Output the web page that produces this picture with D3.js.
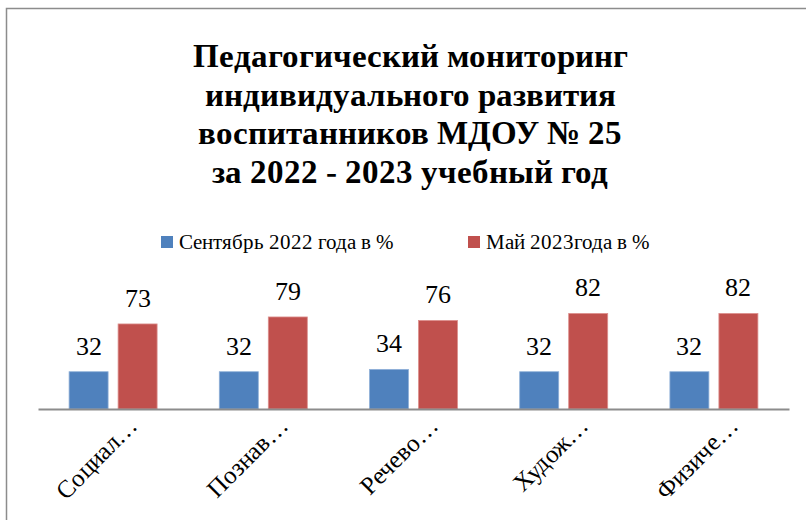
<!DOCTYPE html>
<html>
<head>
<meta charset="utf-8">
<script src="https://cdn.jsdelivr.net/npm/d3@7"></script>
<style>
  @font-face { font-family: "ChartSerif"; src: local("Liberation Serif"), local("LiberationSerif"), local("Times New Roman"); font-weight: normal; }
  @font-face { font-family: "ChartSerif"; src: local("Liberation Serif Bold"), local("LiberationSerif-Bold"), local("Times New Roman Bold"); font-weight: bold; }
  body { margin: 0; }
</style>
</head>
<body>
<svg id="chart" width="806" height="520"></svg>
<script>
// --------------------------------------------------------------------------------------
// data
// --------------------------------------------------------------------------------------
var categories = ["Социал…", "Познав…", "Речево…", "Худож…", "Физиче…"];
var series_names = ["Сентябрь 2022 года в %", "Май 2023года в %"];
var sept_values = [32, 32, 34, 32, 32];
var may_values = [73, 79, 76, 82, 82];
var title_lines = [
  "Педагогический мониторинг",
  "индивидуального развития",
  "воспитанников МДОУ № 25",
  "за 2022 - 2023 учебный год"
];

var colors = ["#4f81bd", "#c0504d"];
var edges = ["#8fb0d8", "#dc8f8d"];
var serif = "ChartSerif, 'Liberation Serif', FreeSerif, serif";

// --------------------------------------------------------------------------------------
var svg = d3.select("#chart");

// outer frame of the chart (continues past the right / bottom edge)
svg.append("rect")
   .attr("x", 6.5)
   .attr("y", 8.5)
   .attr("width", 830)
   .attr("height", 540)
   .attr("fill", "#fff")
   .attr("stroke", "#8c8c8c")
   .attr("stroke-width", 1.5);

// ==================================================
// title
svg.append("text")
   .attr("x", 410)
   .attr("y", 67)
   .attr("text-anchor", "middle")
   .style("font-family", serif)
   .style("font-size", "33px")
   .style("font-weight", "bold")
   .selectAll("tspan")
   .data(title_lines)
   .enter()
   .append("tspan")
   .attr("x", 410)
   .attr("dy", function(d, i) { return i == 0 ? 0 : 38.7; })
   .text(function(d) { return d; });

// ==================================================
// legend
var legend_x = [161, 468];
var legend = svg.selectAll(".legend")
   .data(series_names)
   .enter()
   .append("g")
   .attr("class", "legend")
   .attr("transform", function(d, i) { return "translate(" + legend_x[i] + ",236)"; });

legend.append("rect")
   .attr("width", 12)
   .attr("height", 12)
   .attr("fill", function(d, i) { return colors[i]; });

legend.append("text")
   .attr("x", 18)
   .attr("y", 13)
   .style("font-family", serif)
   .style("font-size", "21px")
   .text(function(d) { return d; });

// ==================================================
// scales
var x = d3.scaleBand()
          .domain(categories)
          .range([38, 789])
          .padding(0);

var bw = x.bandwidth();
var x1 = d3.scaleBand()
           .domain([0, 1])
           .range([bw / 2 - 44, bw / 2 + 44])
           .paddingInner(10 / 49);

var y = d3.scaleLinear()
          .domain([0, 100])
          .range([409, 292.5]);

var rows = categories.map(function(c, i) {
  return { cat: c, vals: [sept_values[i], may_values[i]] };
});

// ==================================================
// bars
var groups = svg.selectAll(".group")
   .data(rows)
   .enter()
   .append("g")
   .attr("class", "group")
   .attr("transform", function(d) { return "translate(" + x(d.cat) + ",0)"; });

var cells = groups.selectAll(".cell")
   .data(function(d) { return d.vals; })
   .enter()
   .append("g")
   .attr("class", "cell");

cells.append("rect")
   .attr("x", function(d, i) { return x1(i); })
   .attr("y", function(d) { return y(d); })
   .attr("width", x1.bandwidth())
   .attr("height", function(d) { return y(0) - y(d); })
   .attr("fill", function(d, i) { return colors[i]; })
   .attr("stroke", function(d, i) { return edges[i]; })
   .attr("stroke-width", 0.8);

// value labels
cells.append("text")
   .attr("x", function(d, i) { return x1(i) + x1.bandwidth() / 2; })
   .attr("y", function(d) { return y(d) - 17; })
   .attr("text-anchor", "middle")
   .style("font-family", serif)
   .style("font-size", "26px")
   .text(function(d) { return d; });

// ==================================================
// x axis
var x_axis = svg.append("g")
   .attr("transform", "translate(0," + y(0) + ")")
   .call(d3.axisBottom(x).tickSize(0).tickSizeOuter(0).tickPadding(0))
   .attr("font-family", null)
   .attr("font-size", null);

x_axis.select(".domain")
   .attr("stroke", "#8c8c8c")
   .attr("stroke-width", 2);

x_axis.selectAll("text")
   .style("font-family", serif)
   .style("font-size", "25px")
   .attr("fill", "#000")
   .attr("text-anchor", "end")
   .attr("dy", 0)
   .attr("y", 0)
   .attr("x", 0)
   .attr("transform", "translate(26,18) rotate(-45)");
</script>
</body>
</html>
